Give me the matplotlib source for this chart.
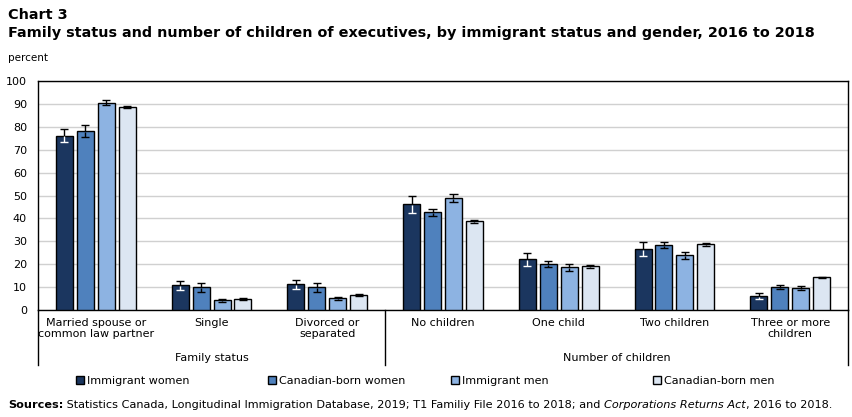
import numpy as np
import matplotlib.pyplot as plt

# data
categories = ['Married spouse or\ncommon law partner', 'Single', 'Divorced or\nseparated',
              'No children', 'One child', 'Two children', 'Three or more\nchildren']
series = ['Immigrant women', 'Canadian-born women', 'Immigrant men', 'Canadian-born men']
imm_women = [76.2, 10.8, 11.2, 46.1, 22.1, 26.5, 6.0]
can_women = [78.0, 9.9, 9.9, 42.7, 20.0, 28.3, 9.9]
imm_men = [90.6, 4.2, 5.1, 48.8, 18.6, 23.9, 9.5]
can_men = [88.5, 4.7, 6.5, 38.7, 19.1, 28.7, 14.3]
err_imm_women = [2.8, 2.0, 2.0, 3.6, 2.8, 3.0, 1.4]
err_can_women = [2.6, 2.0, 2.0, 1.5, 1.2, 1.3, 0.8]
err_imm_men = [1.0, 0.7, 0.7, 1.8, 1.4, 1.5, 0.9]
err_can_men = [0.5, 0.4, 0.4, 0.8, 0.6, 0.6, 0.3]
groups = ['Family status', 'Number of children']
group_sizes = [3, 4]

colors = ['#1b365f', '#4f81bd', '#8db3e2', '#dce6f2']
values = [imm_women, can_women, imm_men, can_men]
errors = [err_imm_women, err_can_women, err_imm_men, err_can_men]

plt.rcParams['font.family'] = ['DejaVu Sans']

fig = plt.figure(figsize=(8.53, 4.17), dpi=100)
ax = fig.add_axes([38 / 853, 1 - 310 / 417, 810 / 853, 229 / 417])

x = np.arange(len(categories))
width = 0.147
step = 0.181
cap = 0.035
bars = []
for i, (vals, errs, c) in enumerate(zip(values, errors, colors)):
    pos = x + (i - 1.5) * step
    b = ax.bar(pos, vals, width, color=c, edgecolor='black', linewidth=1.0, zorder=3, label=series[i])
    bars.append(b)
    vals = np.array(vals)
    errs = np.array(errs)
    # part above the bar is black, part inside the bar is white on the darkest bars
    ax.vlines(pos, vals, vals + errs, color='black', linewidth=1.0, zorder=4)
    ax.hlines(vals + errs, pos - cap, pos + cap, color='black', linewidth=1.0, zorder=4)
    low_c = 'white' if i == 0 else 'black'
    ax.vlines(pos, vals - errs, vals - 0.3, color=low_c, linewidth=1.0, zorder=4)
    ax.hlines(vals - errs, pos - cap, pos + cap, color=low_c, linewidth=1.0, zorder=4)

ax.set_xlim(-0.5, len(categories) - 0.5)
ax.set_ylim(0, 100)
ax.set_yticks(range(0, 101, 10))
ax.yaxis.grid(True, color='#d0d0d0', linewidth=1.0, zorder=0)
ax.set_axisbelow(True)
ax.tick_params(axis='y', length=0, labelsize=8, pad=8)
ax.set_xticks(x)
ax.set_xticklabels(categories, fontsize=8, linespacing=1.1)
ax.tick_params(axis='x', length=0, pad=6)
for s in ax.spines.values():
    s.set_linewidth(1.0)

# group separators and labels below the axis
trans = ax.get_xaxis_transform()
edges = np.concatenate([[0], np.cumsum(group_sizes)]) - 0.5
for e in edges:
    ax.plot([e, e], [0, -0.24], color='black', linewidth=1.0, transform=trans, clip_on=False)
for g, a, b in zip(groups, edges[:-1], edges[1:]):
    ax.text((a + b) / 2, -0.21, g, transform=trans, ha='center', va='center', fontsize=8)

fig.text(8 / 853, 1 - 15 / 417, 'Chart 3', fontsize=10.4, fontweight='bold', va='center')
fig.text(8 / 853, 1 - 33 / 417,
         'Family status and number of children of executives, by immigrant status and gender, 2016 to 2018',
         fontsize=10.4, fontweight='bold', va='center')
fig.text(8 / 853, 1 - 58 / 417, 'percent', fontsize=7.5, va='center')

# legend entries placed one by one, as in the original layout
legend_x = [76, 268, 451, 653]
for b, lab, lx in zip(bars, series, legend_x):
    fig.legend([b], [lab], loc='center left', bbox_to_anchor=(lx / 853, 1 - 381 / 417),
               frameon=False, fontsize=8, handlelength=0.7, handleheight=0.7,
               handletextpad=0.3, borderpad=0, borderaxespad=0)

# sources line built from pieces with different weights / styles
renderer = fig.canvas.get_renderer()
pieces = [('Sources:', 'bold', 'normal'),
          (' Statistics Canada, Longitudinal Immigration Database, 2019; T1 Familiy File 2016 to 2018; and ', 'normal', 'normal'),
          ('Corporations Returns Act', 'normal', 'italic'),
          (', 2016 to 2018.', 'normal', 'normal')]
xpos = 8
for txt, w, st in pieces:
    t = fig.text(xpos / 853, 1 - 405 / 417, txt, fontsize=8.1, fontweight=w, fontstyle=st, va='center')
    xpos = t.get_window_extent(renderer).x1

fig.savefig('out.png', dpi=100)
